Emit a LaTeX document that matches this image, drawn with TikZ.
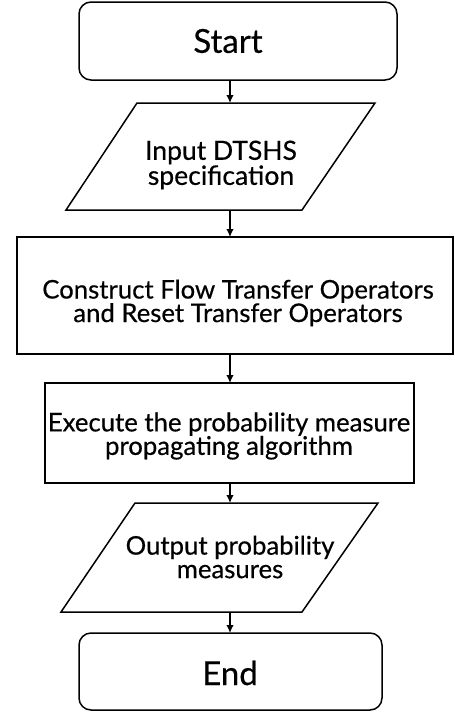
\documentclass[tikz,border=0pt]{standalone}
\usepackage{fontspec}
\setmainfont{Lato}[FakeBold=0.5]
\usetikzlibrary{arrows.meta}
\begin{document}
\begin{tikzpicture}[x=1pt,y=-1pt,
  every node/.style={inner sep=0pt,outer sep=0pt,align=center},
  term/.style={draw,line width=1.5pt,rounded corners=12pt},
  termtext/.style={font=\fontsize{33}{36}\selectfont},
  procbox/.style={draw,line width=1.5pt},
  bodytext/.style={font=\fontsize{25.7}{23.5}\selectfont},
  inputtext/.style={font=\fontsize{26.5}{23}\selectfont},
  flow/.style={line width=1.4pt,-{Latex[length=8pt,width=7.5pt]}},
  shapeline/.style={line width=1.5pt,line join=miter}]
\useasboundingbox (0,0) rectangle (455,712);
% start
\node[term,minimum width=318pt,minimum height=78pt] (start) at (238,41) {};
\node[termtext] (starttext) at (228,41) {Start};
% input
\node[minimum width=180pt,minimum height=107pt] (input) at (220,156.5) {};
\draw[shapeline] (137,103) -- (375,103) -- (302,210) -- (66,210) -- cycle;
\node[inputtext] (inputtext) at (221,165) {Input DTSHS\\specification};
% construct
\node[procbox,minimum width=436pt,minimum height=117pt] (construct) at (235,295.5) {};
\node[bodytext] (constructtext) at (238,303) {Construct Flow Transfer Operators\\and Reset Transfer Operators};
% execute
\node[procbox,minimum width=369pt,minimum height=100pt] (execute) at (229.5,433) {};
\node[bodytext] (executetext) at (229,436) {Execute the probability measure\\propagating algorithm};
% output
\node[minimum width=180pt,minimum height=109pt] (output) at (219,557.5) {};
\draw[shapeline] (135,503) -- (378,503) -- (302,612) -- (61,612) -- cycle;
\node[bodytext] (outputtext) at (230,557) {Output probability\\measures};
% end
\node[term,minimum width=303pt,minimum height=77pt] (end) at (230.5,671.5) {};
\node[termtext] (endtext) at (230,673) {End};
% connectors
\coordinate (ax) at (230,0);
\draw[flow] (start.south -| ax) -- (input.north -| ax);
\draw[flow] (input.south -| ax) -- (construct.north -| ax);
\draw[flow] (construct.south -| ax) -- (execute.north -| ax);
\draw[flow] (execute.south -| ax) -- (output.north -| ax);
\draw[flow] (output.south -| ax) -- (end.north -| ax);
\end{tikzpicture}
\end{document}
